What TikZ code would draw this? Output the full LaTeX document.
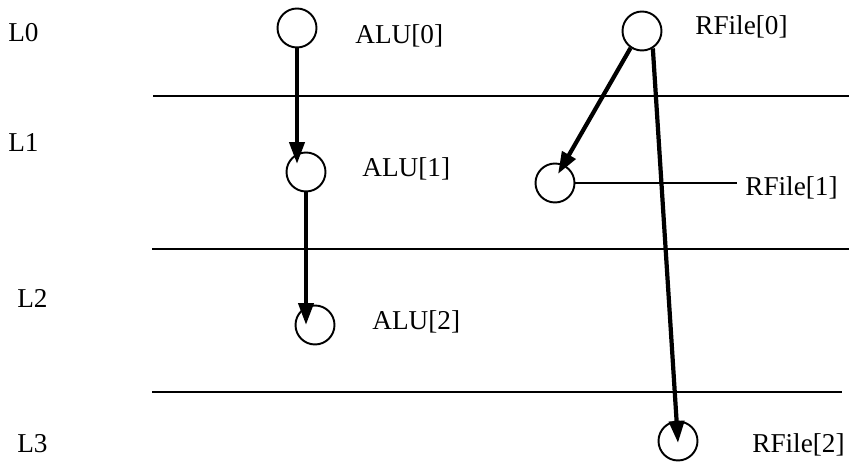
\documentclass[tikz,border=0pt]{standalone}
\usepackage{fontspec}
\setmainfont{Liberation Serif}
\usetikzlibrary{arrows.meta}

\begin{document}
\begin{tikzpicture}[x=0.02cm, y=-0.02cm,
  reg/.style={circle, draw, line width=1.1pt, minimum size=0.78cm, inner sep=0pt},
  lbl/.style={anchor=base west, inner sep=0pt, font=\fontsize{15.5}{18}\selectfont},
  arr/.style={line width=2.4pt, -{Triangle[length=0.44cm, width=0.3cm]}},
  level/.style={line width=1.1pt}]
  \useasboundingbox (0,0) rectangle (849,462);
  % level boundaries
  \coordinate (b1w) at (153,96);  \coordinate (b1e) at (849,96);
  \coordinate (b2w) at (152,249); \coordinate (b2e) at (849,249);
  \coordinate (b3w) at (152,392); \coordinate (b3e) at (842,392);
  \draw[level] (b1w) -- (b1e);
  \draw[level] (b2w) -- (b2e);
  \draw[level] (b3w) -- (b3e);
  % level names
  \node[lbl] (l0) at (8,42)  {L0};
  \node[lbl] (l1) at (8,152) {L1};
  \node[lbl] (l2) at (17,308) {L2};
  \node[lbl] (l3) at (17,453) {L3};
  % nodes
  \node[reg] (alu0) at (297,28)  {};
  \node[reg] (alu1) at (306,172) {};
  \node[reg] (alu2) at (315,325) {};
  \node[reg] (rf0)  at (642,31)  {};
  \node[reg] (rf1)  at (555,183) {};
  \node[reg] (rf2)  at (678,441) {};
  \node[lbl] (alu0t) at (355,44)  {ALU[0]};
  \node[lbl] (alu1t) at (362,177) {ALU[1]};
  \node[lbl] (alu2t) at (372,330) {ALU[2]};
  \node[lbl] (rf0t)  at (695,35)  {RFile[0]};
  \node[lbl] (rf1t)  at (745,196) {RFile[1]};
  \node[lbl] (rf2t)  at (752,453) {RFile[2]};
  % arrow tips
  \coordinate (t1) at (297,164);
  \coordinate (t2) at (306,325);
  \coordinate (t3) at (558,174);
  \coordinate (t4) at (678,443);
  \coordinate (rf1e) at (737,183);
  % edges
  \draw[arr] (alu0.south) -- (t1);
  \draw[arr] (alu1.south) -- (t2);
  \draw[arr] (rf0.236) -- (t3);
  \draw[arr] (rf0.302) -- (t4);
  \draw[line width=1pt] (rf1.east) -- (rf1e);
\end{tikzpicture}
\end{document}
